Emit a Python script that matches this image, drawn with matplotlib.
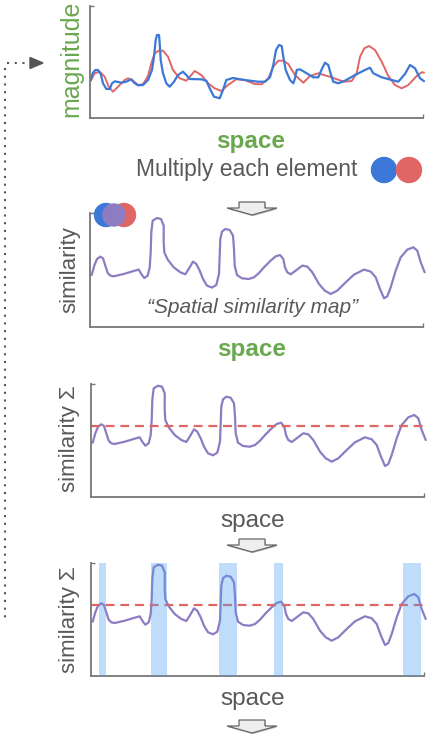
import matplotlib
matplotlib.use("Agg")
import matplotlib.pyplot as plt
from matplotlib.patches import Circle, Polygon

plt.rcParams['font.family'] = ['Liberation Sans', 'DejaVu Sans']

# ---- data ----
# panel 1: two feature vectors along space
blue_x = [0.7, 2.7, 5.3, 8, 10.7, 13, 16.3, 19.7, 22, 24.7, 31.3, 36.3, 41.3, 44, 48, 53, 58, 62, 64, 65.7,
          67, 69, 69.7, 70.7, 73, 76.3, 79.7, 84, 88, 93, 96.3, 99.7, 111.3, 116.3, 119.7, 124, 129.7, 133,
          136.3, 143, 154.7, 168, 175, 180, 183.3, 186, 189, 191.7, 193.3, 195.7, 200, 203.3, 205, 206.7,
          210, 216.7, 223.3, 228.3, 231.7, 235, 238.3, 241, 243.3, 248.3, 255, 265, 275, 280, 283.3, 291.7,
          301.7, 308.3, 315, 320, 325, 330, 334]
blue_y = [38, 44.7, 48, 48, 44, 34.7, 29, 29, 34.7, 36.7, 35.3, 36.3, 38.7, 35.3, 32.7, 33, 38, 48, 61.3, 78,
          83, 83, 74.7, 58, 44.7, 34.7, 31.3, 36.3, 43, 46.3, 43, 39, 38.7, 37.3, 29.7, 21.3, 19.7, 28,
          38, 40, 38, 36.3, 36.3, 40.7, 53, 68, 73, 72, 61.3, 48, 38, 34.7, 39.7, 48,
          48.7, 44.7, 40.7, 40.7, 48.7, 55.3, 53, 43, 36.3, 34.7, 37.3, 43, 48, 50.3, 44.7, 40.7,
          38, 36.3, 44, 53, 49.7, 39.7, 36.8]
red_x = [0.7, 4.7, 9.7, 14.7, 18.7, 23, 28, 34.7, 38, 43, 48, 53, 58, 61.3, 64.7, 68.7, 73, 78, 83, 89.7,
         96.3, 101.3, 104.7, 111.3, 118, 124.7, 131.3, 138, 146.3, 154.7, 164.7, 171.7, 178.3, 183.3,
         188.3, 193.3, 198.3, 205, 213.3, 220, 228.3, 241.7, 253.3, 261.7, 266.7, 270, 274.3, 279, 285,
         291.7, 298.3, 305, 311.7, 318.3, 326.7, 331.7, 334]
red_y = [37.3, 44.7, 46.3, 41.3, 31.3, 26.3, 31.3, 38, 39.7, 37.3, 33, 33.7, 42, 54.7, 64.7, 67.3, 67.3, 61.3,
         48, 39.7, 37.3, 43, 47, 43, 34.7, 29.7, 27, 33, 38.7, 38, 34, 33.7, 39.7, 51.3,
         57.3, 57.3, 54, 43, 35.3, 42, 44.7, 40.7, 36.3, 37, 44.7, 61.3, 69.7, 72, 68,
         56.3, 42, 33, 29.7, 33, 42, 45.7, 45.5]

# panels 2-4: spatial similarity map
sim_x = [1.7, 4.3, 7, 10.3, 13, 15.3, 17.7, 20.3, 23.7, 33.7, 43.7, 48.7, 51.3, 54.3, 57.7, 59.7, 60.7, 61.3,
         62.7, 67, 71, 73.7, 73.7, 74.3, 77.7, 83.7, 90.3, 95.3, 98.7, 103, 106.3, 109.7, 113, 117, 122,
         126.3, 129, 129.7, 130.3, 132, 135.3, 139.7, 143, 144, 144.7, 147, 152, 158.7, 164, 169, 174,
         180.7, 185.7, 190, 193.3, 195, 197.3, 200.7, 205.7, 212.3, 217.3, 222.3, 229, 234.7, 240.7,
         247.3, 255.7, 264, 274, 280.7, 285.7, 290, 294, 297.3, 300.7, 305.7, 310.7, 317.3, 323.3,
         327.3, 330.7, 334.7]
sim_y = [54.3, 63.7, 70.3, 72.7, 71, 63.7, 56.3, 53.7, 53, 55.3, 58.3, 59.7, 55.3, 51.3, 53.7, 62, 77, 97,
         108.7, 111.3, 110.3, 103.7, 87, 77, 69.7, 62, 57, 55, 60.3, 67.7, 65.3, 58.7, 50.3, 43.7, 41.7,
         44.3, 55.3, 73.7, 90.3, 97.7, 100.3, 99.3, 93.7, 80.3, 63.7, 54.3, 51, 50.3, 52, 56.3, 62,
         68.7, 73, 74.3, 70.3, 62, 57, 55, 58.7, 63.7, 62.7, 57, 45.3, 38.7, 35.3,
         38.7, 47, 54.7, 59.7, 57.7, 52, 40.3, 31, 33, 42, 58.7, 72, 79.7, 82,
         78.7, 67, 57]
threshold = 71
# regions above threshold (panel 4)
span_start = [8, 60, 128, 183, 312]
span_end = [15, 76, 146, 192, 330]

W, H = 434, 735
GREEN = '#6aa84f'
GRAY = '#595959'
BLUE = '#3c78d8'
RED = '#e06666'
PURPLE = '#8e7cc3'

fig = plt.figure(figsize=(W / 100, H / 100), dpi=100)


def make_panel(top, bottom, left=91, right=424):
    ax = fig.add_axes([left / W, 1 - bottom / H, (right - left) / W, (bottom - top) / H])
    for s in ['top', 'right']:
        ax.spines[s].set_visible(False)
    for s in ['left', 'bottom']:
        ax.spines[s].set_color('#777777')
        ax.spines[s].set_linewidth(1.3)
    ax.set_xlim(0, 333)
    return ax


def end_ticks(ax, ytop):
    # tiny caps at the end of the axis lines
    ax.set_xticks([333])
    ax.set_yticks([ytop])
    ax.set_xticklabels([])
    ax.set_yticklabels([])
    ax.tick_params(direction='in', length=3, width=1, color='#777777')


def curve(ax, x, y, color, lw=1.6):
    ax.plot(x, y, color=color, lw=lw, clip_on=False,
            solid_joinstyle='round', solid_capstyle='round')


# panel 1
ax1 = make_panel(6, 118, left=90, right=423)
curve(ax1, red_x, red_y, RED, 1.4)
curve(ax1, blue_x, blue_y, BLUE)
ax1.set_ylim(0, 112)
end_ticks(ax1, 112)

# panel 2
ax2 = make_panel(213, 327, left=90, right=423)
curve(ax2, sim_x, sim_y, PURPLE)
ax2.set_ylim(2.3, 116.3)
end_ticks(ax2, 116.3)

# panel 3
ax3 = make_panel(384, 497)
curve(ax3, sim_x, sim_y, PURPLE)
ax3.axhline(threshold, color=RED, lw=1.6, dashes=(4, 2.6))
ax3.set_ylim(0, 113)
end_ticks(ax3, 113)

# panel 4
ax4 = make_panel(563, 676)
curve(ax4, sim_x, sim_y, PURPLE)
ax4.axhline(threshold, color=RED, lw=1.6, dashes=(4, 2.6))
for a, b in zip(span_start, span_end):
    ax4.axvspan(a, b, color='#4a9ff5', alpha=0.35, lw=0, zorder=3)
ax4.set_ylim(0, 113)
end_ticks(ax4, 113)

# overlay in pixel coordinates for the text, circles and arrows
ov = fig.add_axes([0, 0, 1, 1])
ov.set_xlim(0, W)
ov.set_ylim(H, 0)
ov.axis('off')


def block_arrow(cx, top):
    pts = [(cx - 13, top), (cx + 13, top), (cx + 13, top + 6), (cx + 25, top + 6),
           (cx, top + 13), (cx - 25, top + 6), (cx - 13, top + 6)]
    # soft shadow, then the arrow itself
    shadow = [(px + 0.8, py + 1.2) for px, py in pts]
    ov.add_patch(Polygon(shadow, closed=True, facecolor='#bbbbbb', edgecolor='none'))
    ov.add_patch(Polygon(pts, closed=True, facecolor='#eeeeee', edgecolor='#666666', lw=0.9))


ov.text(71.5, 59, 'magnitude', color=GREEN, fontsize=18, rotation=90, ha='center', va='center')
ov.text(251, 148, 'space', color=GREEN, fontsize=17.5, fontweight='bold', ha='center', va='baseline')
ov.text(247, 176, 'Multiply each element', color=GRAY, fontsize=16.5, ha='center', va='baseline')
ov.add_patch(Circle((384, 170), 12.5, color=BLUE))
ov.add_patch(Circle((409, 170), 12.5, color=RED))

block_arrow(252, 202)

ov.add_patch(Circle((106, 215), 11.5, color=BLUE))
ov.add_patch(Circle((124, 215), 11.5, color=RED))
ov.add_patch(Circle((114, 215), 11, color=PURPLE))
ov.text(69.5, 270, 'similarity', color=GRAY, fontsize=16, rotation=90, ha='center', va='center')
ov.text(253, 312.5, '\u201cSpatial similarity map\u201d', color=GRAY, fontsize=15, style='italic',
        ha='center', va='baseline')
ov.text(252, 356, 'space', color=GREEN, fontsize=17.5, fontweight='bold', ha='center', va='baseline')

ov.text(69.5, 439, 'similarity \u03a3', color=GRAY, fontsize=16, rotation=90, ha='center', va='center')
ov.text(252.5, 526.5, 'space', color=GRAY, fontsize=17.5, ha='center', va='baseline')
block_arrow(252, 539)

ov.text(69.5, 619.5, 'similarity \u03a3', color=GRAY, fontsize=16, rotation=90, ha='center', va='center')
ov.text(252.5, 705.5, 'space', color=GRAY, fontsize=17.5, ha='center', va='baseline')
block_arrow(252, 720)

# dotted feedback line on the left
ov.plot([5, 5], [68, 622], color='#555555', lw=1.5, dashes=(1, 2.7))
ov.plot([7, 26], [63, 63], color='#555555', lw=1.5, dashes=(1, 2.7))
ov.add_patch(Polygon([(30, 57.5), (30, 68.5), (43, 63)], closed=True, color='#555555'))

fig.savefig('out.png', dpi=100)
